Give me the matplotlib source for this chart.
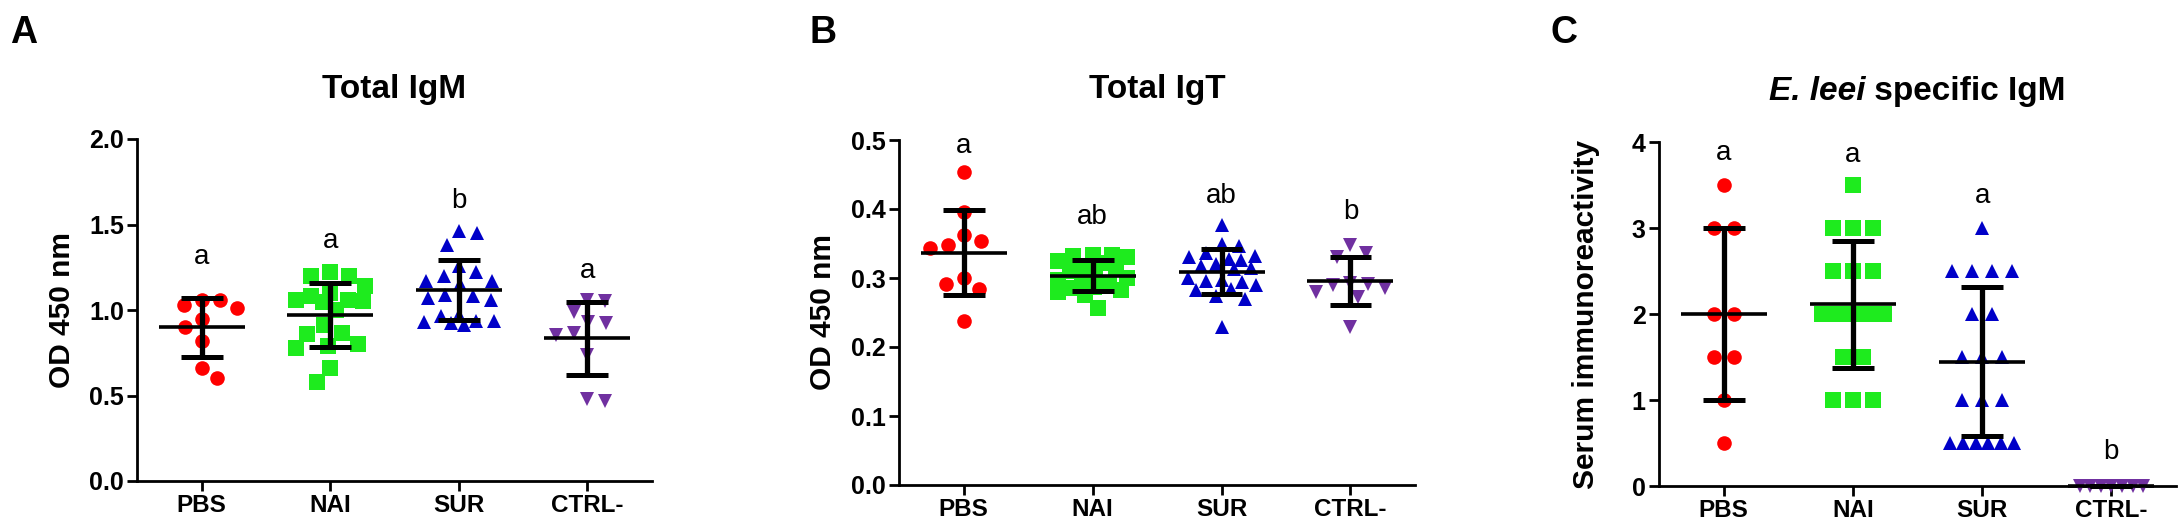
import matplotlib
matplotlib.use("Agg")
import matplotlib.pyplot as plt
import numpy as np
from matplotlib.ticker import FormatStrFormatter, MultipleLocator

plt.rcParams["font.family"] = ["Liberation Sans", "DejaVu Sans"]

W, H = 2181, 525
PT = 100 / 72.0  # pixels per point at dpi 100

GROUPS = ["PBS", "NAI", "SUR", "CTRL-"]

# Panel A - total IgM (OD 450 nm)
IGM_PBS = [1.06, 1.03, 1.01, 1.06, 0.95, 0.90, 0.82, 0.66, 0.60]
IGM_NAI = [1.22, 1.20, 1.20, 1.14, 1.10, 1.08, 1.06, 1.052, 1.047, 1.06, 1.00,
           0.91, 0.868, 0.862, 0.79, 0.78, 0.80, 0.66, 0.58]
IGM_SUR = [1.45, 1.46, 1.38, 1.26, 1.22, 1.20, 1.17, 1.172, 1.15, 1.09, 1.07,
           1.06, 1.08, 0.97, 0.965, 0.935, 0.925, 0.915, 0.927, 0.937]
IGM_CTRL = [1.05, 1.06, 0.99, 0.925, 0.927, 0.855, 0.865, 0.735, 0.47, 0.48]

# Panel B - total IgT (OD 450 nm)
IGT_PBS = [0.454, 0.396, 0.354, 0.362, 0.343, 0.348, 0.300, 0.291, 0.284, 0.237]
IGT_NAI = [0.333, 0.332, 0.330, 0.334, 0.325, 0.322, 0.316, 0.313, 0.310, 0.305,
           0.300, 0.297, 0.293, 0.290, 0.287, 0.285, 0.282, 0.279, 0.276, 0.256]
IGT_SUR = [0.377, 0.349, 0.347, 0.336, 0.332, 0.330, 0.328, 0.326, 0.320, 0.318,
           0.315, 0.313, 0.300, 0.297, 0.296, 0.294, 0.290, 0.284, 0.282, 0.274,
           0.270, 0.229]
IGT_CTRL = [0.348, 0.336, 0.331, 0.292, 0.290, 0.293, 0.285, 0.280, 0.272, 0.229]

# Panel C - E. leei specific IgM (serum immunoreactivity score)
ELEEI_PBS = [3.5, 3, 3, 2, 2, 1.5, 1.5, 1, 0.5]
ELEEI_NAI = [3.5, 3, 3, 3, 2.5, 2.5, 2.5, 2, 2, 2, 2, 2, 2, 1.5, 1.5, 1, 1, 1]
ELEEI_SUR = [3, 2.5, 2.5, 2.5, 2.5, 2, 2, 1.5, 1.5, 1.5, 1, 1, 1,
             0.5, 0.5, 0.5, 0.5, 0.5, 0.5]
ELEEI_CTRL = [0, 0, 0, 0, 0, 0, 0]

SIG_A = ["a", "a", "b", "a"]
SIG_B = ["a", "ab", "ab", "b"]
SIG_C = ["a", "a", "a", "b"]

# baseline heights of the significance letters (data units)
SIG_Y_A = [1.267, 1.365, 1.599, 1.189]
SIG_Y_B = [0.481, 0.378, 0.409, 0.385]
SIG_Y_C = [3.79, 3.77, 3.29, 0.31]

RED = "#FF0000"
GREEN = "#1EEB1E"
BLUE = "#0000C8"
PURPLE = "#7030A0"
STYLES = [("o", RED, 10.5), ("s", GREEN, 11.0), ("^", BLUE, 10.3), ("v", PURPLE, 10.3)]


def add_axes_px(fig, left, top, right, bottom):
    return fig.add_axes([left / W, 1 - bottom / H, (right - left) / W, (bottom - top) / H])


def swarm(vals, ypx, dpx, xpx, rows=False, maxhalf=35, gap=20):
    """horizontal offsets (data units) for a column scatter, prism-like"""
    vals = np.asarray(vals, float)
    off = np.zeros(len(vals))
    if rows:
        for v in np.unique(vals):
            idx = np.where(vals == v)[0]
            k = len(idx)
            if k > 1:
                step = min(gap, (2 * maxhalf + 8 - dpx) / (k - 1))
                off[idx] = (np.arange(k) - (k - 1) / 2) * step
        return off / xpx
    y = vals * ypx
    grid = np.arange(-maxhalf, maxhalf + 0.01, 0.5)
    clear = 1.25 * dpx
    placed = []
    sign = 1
    for i in np.argsort(-vals, kind="stable"):
        if placed:
            px_ = off[placed]
            py_ = y[placed]
            dist = np.hypot(grid[:, None] - px_[None, :], y[i] - py_[None, :]).min(axis=1)
        else:
            dist = np.full(grid.shape, np.inf)
        ok = dist >= clear
        if ok.any():
            cand = grid[ok]
            key = np.round(np.abs(cand), 3) - 1e-4 * sign * np.sign(cand)
            c = cand[np.argmin(key)]
        else:
            best = dist.max()
            cand = grid[dist >= best - 0.5]
            key = np.abs(cand) - 1e-4 * sign * np.sign(cand)
            c = cand[np.argmin(key)]
        off[i] = c
        if c != 0:
            sign = -sign
        placed.append(i)
    return off / xpx


def draw_panel(fig, rect, data, ymax, ystep, fmt, sig, sig_y, rows=False):
    left, top, right, bottom = rect
    ax = add_axes_px(fig, left, top, right, bottom)
    ax.set_xlim(-0.5, 3.5)
    ax.set_ylim(0, ymax)
    xpx = (right - left) / 4.0
    ypx = (bottom - top) / ymax

    for i, vals in enumerate(data):
        marker, color, ms = STYLES[i]
        offs = swarm(vals, ypx, ms * PT, xpx, rows=rows)
        ax.plot(i + offs, vals, ls="none", marker=marker, ms=ms, color=color,
                mew=0, clip_on=False, zorder=3)

        m = np.mean(vals)
        s = np.std(vals, ddof=1)
        mh = 43 / xpx
        ch = 21 / xpx
        kw = dict(color="black", solid_capstyle="butt", clip_on=False, zorder=4)
        ax.plot([i - mh, i + mh], [m, m], lw=2.6, **kw)
        ax.plot([i, i], [m - s, m + s], lw=3.8, **kw)
        ax.plot([i - ch, i + ch], [m + s, m + s], lw=3.6, **kw)
        ax.plot([i - ch, i + ch], [m - s, m - s], lw=3.6, **kw)

        ax.text(i, sig_y[i], sig[i], ha="center", va="baseline", fontsize=20)

    for side in ["top", "right"]:
        ax.spines[side].set_visible(False)
    for side in ["left", "bottom"]:
        ax.spines[side].set_linewidth(2)
    ax.set_xticks(range(len(GROUPS)))
    ax.set_xticklabels(GROUPS, fontweight="bold", fontsize=17.5)
    ax.yaxis.set_major_locator(MultipleLocator(ystep))
    ax.yaxis.set_major_formatter(FormatStrFormatter(fmt))
    ax.tick_params(axis="y", direction="out", length=7.2, width=2, pad=2.5,
                   labelsize=18)
    ax.tick_params(axis="x", direction="out", length=7.2, width=2, pad=2.5)
    for lab in ax.get_yticklabels():
        lab.set_fontweight("bold")
    ax.patch.set_alpha(0)
    return ax


def px(x, y):
    return x / W, 1 - y / H


fig = plt.figure(figsize=(W / 100, H / 100), dpi=100)

RECT_A = (137.5, 139, 651.5, 481)
RECT_B = (899, 140, 1415, 485)
RECT_C = (1659, 142, 2176, 486)

ax_a = draw_panel(fig, RECT_A, [IGM_PBS, IGM_NAI, IGM_SUR, IGM_CTRL], 2.0, 0.5,
                  "%.1f", SIG_A, SIG_Y_A)
ax_b = draw_panel(fig, RECT_B, [IGT_PBS, IGT_NAI, IGT_SUR, IGT_CTRL], 0.5, 0.1,
                  "%.1f", SIG_B, SIG_Y_B)
ax_c = draw_panel(fig, RECT_C, [ELEEI_PBS, ELEEI_NAI, ELEEI_SUR, ELEEI_CTRL], 4, 1,
                  "%d", SIG_C, SIG_Y_C, rows=True)

# panel letters
for letter, x in [("A", 10), ("B", 810), ("C", 1551)]:
    fig.text(*px(x, 43), letter, fontsize=27, fontweight="bold", ha="left",
             va="baseline")

# y labels
for label, x, rect in [("OD 450 nm", 62.5, RECT_A), ("OD 450 nm", 823, RECT_B),
                       ("Serum immunoreactivity", 1586, RECT_C)]:
    fig.text(*px(x, (rect[1] + rect[3]) / 2), label, rotation=90, fontsize=21.5,
             fontweight="bold", ha="center", va="center")

# titles
for title, rect in [("Total IgM", RECT_A), ("Total IgT", RECT_B)]:
    fig.text(*px((rect[0] + rect[2]) / 2, 98), title, fontsize=24,
             fontweight="bold", ha="center", va="baseline")

renderer = fig.canvas.get_renderer()
t1 = fig.text(0, 0, "E. leei", fontsize=24, fontweight="bold", style="italic",
              va="baseline")
t2 = fig.text(0, 0, " specific IgM", fontsize=24, fontweight="bold", va="baseline")
w1 = t1.get_window_extent(renderer).width
w2 = t2.get_window_extent(renderer).width
cx = (RECT_C[0] + RECT_C[2]) / 2
x0 = cx - (w1 + w2) / 2
t1.set_position(px(x0, 100))
t2.set_position(px(x0 + w1, 100))

fig.savefig("out.png", dpi=100)
